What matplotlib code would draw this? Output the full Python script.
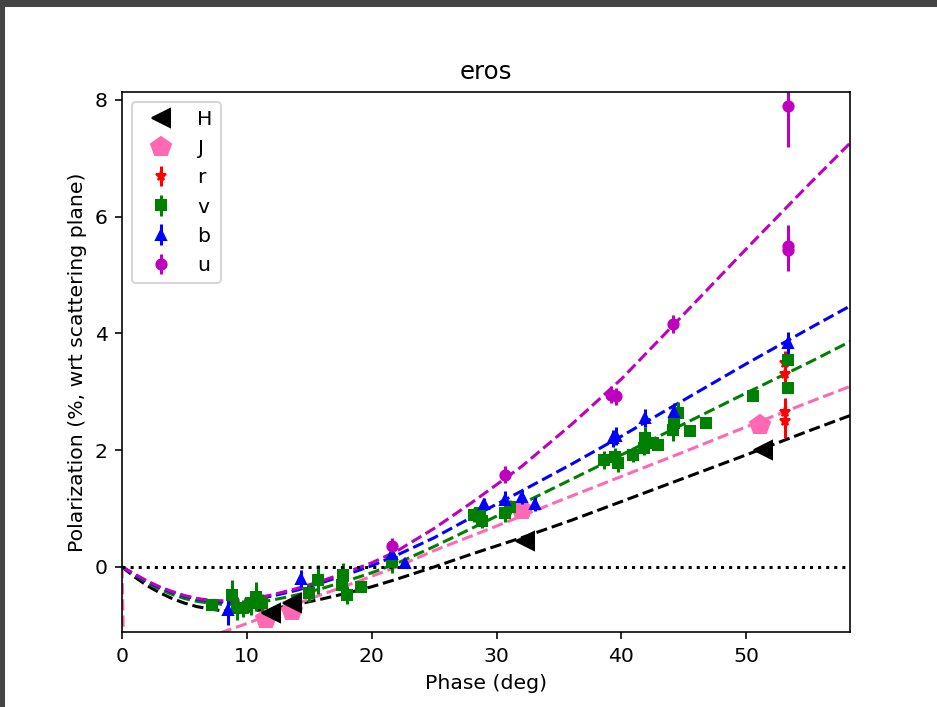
# eros: polarizacao vs angulo de fase, varias bandas
import matplotlib.pyplot as plt
from matplotlib.patches import Rectangle

# dados
H_x = [11.9, 13.6, 32.3, 51.3]
H_y = [-0.79, -0.62, 0.45, 2.0]

J_x = [11.5, 13.6, 32.05, 51.1]
J_y = [-0.9, -0.76, 0.98, 2.43]

r_x = [53.1, 53.1, 53.1, 53.1]
r_y = [3.5, 3.3, 2.65, 2.5]
r_err = [0.2, 0.2, 0.25, 0.3]

v_x = [7.2, 8.8, 9.2, 9.7, 10.3, 10.7, 11.2, 15.0, 15.7, 17.6, 17.7, 18.0, 19.1, 21.6,
       28.2, 28.7, 28.8, 30.7, 31.1, 38.6, 39.5, 39.7, 40.9, 41.8, 41.9, 42.5, 42.9,
       44.1, 44.2, 44.5, 45.5, 46.8, 50.5, 53.3, 53.3]
v_y = [-0.65, -0.48, -0.71, -0.71, -0.62, -0.51, -0.62, -0.45, -0.22, -0.31, -0.14, -0.48, -0.34, 0.09,
       0.89, 0.92, 0.78, 0.92, 1.03, 1.83, 1.89, 1.78, 1.92, 2.03, 2.2, 2.12, 2.09,
       2.35, 2.46, 2.63, 2.32, 2.46, 2.92, 3.55, 3.06]
v_err = [0.05, 0.25, 0.2, 0.15, 0.2, 0.25, 0.15, 0.15, 0.25, 0.2, 0.2, 0.15, 0.05, 0.2,
         0.12, 0.1, 0.12, 0.15, 0.12, 0.15, 0.15, 0.15, 0.12, 0.12, 0.2, 0.1, 0.05,
         0.2, 0.15, 0.2, 0.05, 0.05, 0.05, 0.05, 0.05]

b_x = [8.5, 14.3, 21.6, 22.7, 29.0, 30.7, 32.0, 33.1, 39.3, 39.6, 41.9, 44.2, 53.3]
b_y = [-0.74, -0.2, 0.22, 0.07, 1.08, 1.15, 1.2, 1.07, 2.2, 2.24, 2.55, 2.66, 3.83]
b_err = [0.25, 0.15, 0.1, 0.05, 0.1, 0.15, 0.12, 0.12, 0.15, 0.15, 0.15, 0.15, 0.2]

u_x = [21.6, 30.7, 39.2, 39.6, 44.1, 53.3, 53.3, 53.3]
u_y = [0.35, 1.58, 2.95, 2.92, 4.16, 7.9, 5.5, 5.42]
u_err = [0.15, 0.15, 0.15, 0.15, 0.15, 0.7, 0.35, 0.35]

# curvas ajustadas
fit_x = [0, 1, 2, 3, 4, 5, 6, 7, 8, 9, 10, 12, 14, 16, 18, 20, 22, 25, 28, 32, 36, 40, 45, 50, 55, 58.4]
fit_H = [0, -0.17, -0.32, -0.44, -0.54, -0.62, -0.68, -0.72, -0.75, -0.76, -0.76, -0.72, -0.64, -0.55,
         -0.45, -0.34, -0.21, 0.0, 0.22, 0.5, 0.8, 1.12, 1.52, 1.92, 2.33, 2.6]
fit_v = [0, -0.14, -0.27, -0.38, -0.47, -0.54, -0.59, -0.62, -0.64, -0.64, -0.63, -0.57, -0.48, -0.37,
         -0.24, -0.1, 0.06, 0.35, 0.66, 1.08, 1.5, 1.92, 2.45, 2.98, 3.5, 3.87]
fit_b = [0, -0.13, -0.25, -0.35, -0.43, -0.5, -0.55, -0.58, -0.6, -0.6, -0.58, -0.5, -0.4, -0.27,
         -0.13, 0.02, 0.2, 0.5, 0.85, 1.3, 1.76, 2.24, 2.86, 3.48, 4.08, 4.48]
fit_u = [0, -0.12, -0.24, -0.34, -0.42, -0.49, -0.54, -0.57, -0.58, -0.58, -0.56, -0.48, -0.37, -0.24,
         -0.09, 0.07, 0.27, 0.66, 1.1, 1.72, 2.44, 3.22, 4.33, 5.45, 6.55, 7.28]
fitJ_x = [0, 0.15, 8.0, 10, 12, 15, 19, 22, 25, 30, 35, 40, 45, 50, 55, 58.4]
fitJ_y = [0, -1.6, -1.12, -0.97, -0.8, -0.55, -0.24, 0.0, 0.28, 0.7, 1.13, 1.55, 1.97, 2.4, 2.82, 3.1]

fig = plt.figure(figsize=(937/146.5, 707/146.5), dpi=146.5)
ax = fig.add_axes([122/937, 1-632.3/707, 728/937, 540.6/707])

# borda escura do print
fig.patches.append(Rectangle((0, 1-6/707), 1, 6/707, transform=fig.transFigure, color="#444444", zorder=10))
fig.patches.append(Rectangle((0, 0), 4/937, 1, transform=fig.transFigure, color="#444444", zorder=10))

ax.plot(fit_x, fit_H, "k--")
ax.plot(fitJ_x, fitJ_y, "--", color="hotpink")
ax.plot(fit_x, fit_v, "g--")
ax.plot(fit_x, fit_b, "b--")
ax.plot(fit_x, fit_u, "m--")

ax.plot(H_x, H_y, "<", color="k", ms=9, label="H", zorder=3)
ax.plot(J_x, J_y, "p", color="hotpink", ms=10, label="J")
ax.errorbar(r_x, r_y, yerr=r_err, fmt="*", color="r", ms=5, label="r")
ax.errorbar(v_x, v_y, yerr=v_err, fmt="s", color="g", ms=5, label="v")
ax.errorbar(b_x, b_y, yerr=b_err, fmt="^", color="b", ms=5, label="b")
ax.errorbar(u_x, u_y, yerr=u_err, fmt="o", color="m", ms=5, label="u")

ax.axhline(0, color="k", ls=":")

ax.set_xlim(0, 58.3)
ax.set_ylim(-1.12, 8.14)
ax.set_xlabel("Phase (deg)")
ax.set_ylabel("Polarization (%, wrt scattering plane)")
ax.set_title("eros")
ax.legend(loc="upper left")

plt.savefig("out.png", dpi=146.5)
